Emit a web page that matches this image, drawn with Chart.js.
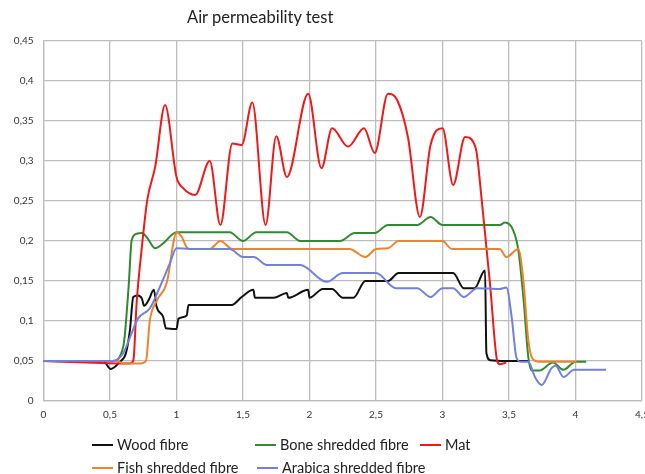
<!DOCTYPE html>
<html>
<head>
<meta charset="utf-8">
<script src="https://cdn.jsdelivr.net/npm/chart.js@4"></script>
<style>
  body { margin: 0; background: #fff; }
  #wrap { position: relative; width: 645px; height: 474px; font-family: Lato, "Noto Sans", sans-serif; color: #222; overflow: hidden; }
  #titulo { position: absolute; left: 187px; top: 7px; font-size: 16.5px; white-space: nowrap; }
  .leg { position: absolute; font-size: 14.5px; white-space: nowrap; line-height: 16px; }
  .leg span { display: inline-block; width: 21px; height: 2px; vertical-align: middle; margin-right: 4px; position: relative; top: -1px; }
</style>
</head>
<body>
<div id="wrap">
  <canvas id="grafico" width="645" height="474"></canvas>
  <div id="titulo">Air permeability test</div>
  <div id="legenda"></div>
</div>
<script>
// eixos
const xTicks = [0, 0.5, 1, 1.5, 2, 2.5, 3, 3.5, 4, 4.5];
const yTicks = [0, 0.05, 0.1, 0.15, 0.2, 0.25, 0.3, 0.35, 0.4, 0.45];

// series [x, y]
const woodFibre = [[0,0.05],[0.45,0.05],[0.505,0.04],[0.575,0.049],[0.62,0.06],[0.65,0.089],[0.675,0.13],[0.71,0.132],[0.74,0.128],[0.756,0.119],[0.79,0.126],[0.83,0.139],[0.85,0.118],[0.9,0.105],[0.92,0.091],[1.0,0.09],[1.015,0.103],[1.077,0.107],[1.09,0.12],[1.415,0.12],[1.49,0.13],[1.578,0.139],[1.59,0.129],[1.73,0.129],[1.83,0.135],[1.84,0.129],[1.99,0.139],[2.0,0.129],[2.1,0.14],[2.17,0.14],[2.25,0.129],[2.33,0.129],[2.42,0.15],[2.59,0.15],[2.67,0.16],[3.08,0.16],[3.16,0.141],[3.24,0.141],[3.32,0.163],[3.33,0.06],[3.36,0.051],[3.48,0.05],[3.645,0.05]];
const boneShredded = [[0,0.05],[0.52,0.05],[0.6,0.068],[0.64,0.143],[0.663,0.201],[0.7,0.209],[0.74,0.21],[0.78,0.204],[0.84,0.191],[0.9,0.197],[1.0,0.211],[1.4,0.211],[1.5,0.2],[1.6,0.211],[1.83,0.211],[1.93,0.2],[2.23,0.2],[2.34,0.21],[2.49,0.21],[2.59,0.22],[2.81,0.22],[2.91,0.23],[3.0,0.22],[3.43,0.22],[3.47,0.223],[3.53,0.214],[3.57,0.189],[3.61,0.126],[3.645,0.055],[3.67,0.038],[3.73,0.038],[3.83,0.048],[3.91,0.039],[4.0,0.049],[4.08,0.049]];
const mat = [[0,0.05],[0.6,0.047],[0.65,0.047],[0.676,0.051],[0.7,0.122],[0.74,0.193],[0.78,0.251],[0.84,0.293],[0.914,0.37],[1.0,0.28],[1.05,0.266],[1.14,0.2575],[1.25,0.30],[1.33,0.22],[1.42,0.322],[1.49,0.32],[1.57,0.373],[1.67,0.22],[1.75,0.331],[1.83,0.28],[1.99,0.384],[2.09,0.291],[2.17,0.341],[2.29,0.318],[2.41,0.341],[2.49,0.31],[2.59,0.384],[2.66,0.376],[2.74,0.33],[2.83,0.23],[2.91,0.32],[3.0,0.341],[3.08,0.27],[3.17,0.33],[3.25,0.316],[3.295,0.251],[3.357,0.147],[3.41,0.051],[3.43,0.046],[3.48,0.048]];
const fishShredded = [[0,0.05],[0.55,0.05],[0.6,0.047],[0.73,0.047],[0.77,0.05],[0.8,0.101],[0.85,0.125],[0.93,0.15],[0.98,0.201],[1.0,0.211],[1.04,0.205],[1.077,0.192],[1.1,0.19],[1.25,0.19],[1.33,0.2],[1.42,0.19],[2.3,0.19],[2.42,0.18],[2.5,0.19],[2.59,0.191],[2.67,0.2],[3.0,0.2],[3.07,0.19],[3.43,0.19],[3.48,0.18],[3.57,0.19],[3.61,0.147],[3.645,0.076],[3.68,0.052],[3.73,0.049],[4.01,0.049]];
const arabicaShredded = [[0,0.05],[0.52,0.05],[0.6,0.06],[0.663,0.085],[0.71,0.103],[0.8,0.116],[0.876,0.143],[0.95,0.172],[1.0,0.191],[1.1,0.19],[1.4,0.19],[1.5,0.18],[1.58,0.18],[1.68,0.17],[1.93,0.17],[2.13,0.149],[2.25,0.16],[2.5,0.16],[2.65,0.141],[2.81,0.141],[2.91,0.13],[3.0,0.141],[3.08,0.141],[3.16,0.13],[3.26,0.141],[3.43,0.14],[3.48,0.142],[3.52,0.105],[3.555,0.055],[3.59,0.049],[3.645,0.049],[3.695,0.03],[3.745,0.02],[3.82,0.041],[3.85,0.044],[3.91,0.03],[3.99,0.039],[4.23,0.039]];

const seriesNames = ['Wood fibre', 'Bone shredded fibre', 'Mat', 'Fish shredded fibre', 'Arabica shredded fibre'];
const seriesColors = ['#111111', '#2e8b2e', '#f01818', '#f0822a', '#6f80e0'];
const seriesData = [woodFibre, boneShredded, mat, fishShredded, arabicaShredded];

function virgula(v) {
    return String(Number(v.toFixed(2))).replace('.', ',');
}

const datasets = seriesData.map((pts, i) => ({
    label: seriesNames[i],
    data: pts.map(p => ({ x: p[0], y: p[1] })),
    borderColor: seriesColors[i],
    borderWidth: 2,
    pointRadius: 0,
    showLine: true,
    cubicInterpolationMode: 'monotone',
    order: 5 - i
}));

const ctx = document.getElementById('grafico').getContext('2d');
const grafico = new Chart(ctx, {
    type: 'scatter',
    data: { datasets: datasets },
    options: {
        responsive: false,
        animation: false,
        layout: { padding: { top: 41, right: 3, left: 0, bottom: 0 } },
        plugins: { legend: { display: false }, title: { display: false }, tooltip: { enabled: false } },
        scales: {
            x: {
                type: 'linear', min: 0, max: 4.5,
                afterBuildTicks: s => { s.ticks = xTicks.map(v => ({ value: v })); },
                afterFit: s => { s.height = 73; s.paddingLeft = 0; s.paddingRight = 0; },
                grid: { color: '#bdbdbd', lineWidth: 1.3, drawTicks: false },
                border: { color: '#bdbdbd', width: 1.3 },
                ticks: { color: '#333', font: { family: 'Lato', size: 10 }, padding: 8, callback: v => virgula(v), maxRotation: 0 }
            },
            y: {
                type: 'linear', min: 0, max: 0.45,
                afterBuildTicks: s => { s.ticks = yTicks.map(v => ({ value: v })); },
                afterFit: s => { s.width = 43.5; s.paddingTop = 0; s.paddingBottom = 0; },
                grid: { color: '#bdbdbd', lineWidth: 1.3, drawTicks: false },
                border: { color: '#bdbdbd', width: 1.3 },
                ticks: { color: '#333', font: { family: 'Lato', size: 10 }, padding: 10, callback: v => virgula(v) }
            }
        }
    }
});

// legenda manual, posicoes do original
const legPos = [[92, 437], [255, 437], [420, 437], [92, 460], [257, 460]];
document.getElementById('legenda').innerHTML = seriesNames.map((n, i) =>
    `<div class="leg" style="left:${legPos[i][0]}px;top:${legPos[i][1]}px"><span style="background:${seriesColors[i]}"></span>${n}</div>`
).join('');
</script>
</body>
</html>
